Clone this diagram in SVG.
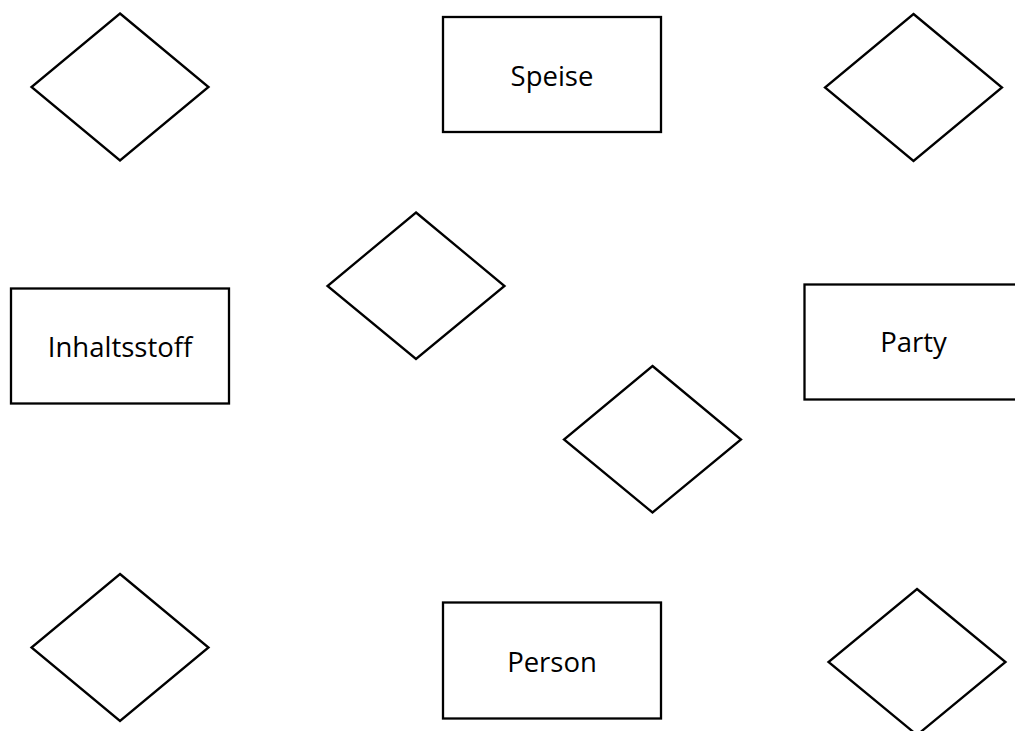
<svg xmlns="http://www.w3.org/2000/svg" width="1015" height="731" viewBox="0 0 1015 731">
<style>
.shape{fill:#ffffff;stroke:#000000;stroke-width:2.3}
.lbl{font-family:"Open Sans","Noto Sans","Liberation Sans",sans-serif;font-size:27.5px;fill:#000000;text-anchor:middle}
</style>
<rect x="0" y="0" width="1015" height="731" fill="#ffffff"/>
<g id="connectors"/>
<g id="rel-top-left"><polygon class="shape" points="120,13.5 208.5,87 120,160.5 31.5,87"/></g>
<g id="entity-speise"><rect class="shape" x="443" y="17" width="218" height="115"/><text class="lbl" x="552" y="86">Speise</text></g>
<g id="rel-top-right"><polygon class="shape" points="913.5,14 1002,87.5 913.5,161 825,87.5"/></g>
<g id="entity-inhaltsstoff"><rect class="shape" x="11" y="288.5" width="218" height="115"/><text class="lbl" x="120" y="356.5">Inhaltsstoff</text></g>
<g id="rel-center-upper"><polygon class="shape" points="416,212.5 504.5,286 416,359 327.5,286"/></g>
<g id="entity-party"><rect class="shape" x="804.5" y="284.5" width="218" height="115"/><text class="lbl" x="913.5" y="351.5">Party</text></g>
<g id="rel-center-lower"><polygon class="shape" points="652.5,366 741,439.5 652.5,512.5 564,439.5"/></g>
<g id="rel-bottom-left"><polygon class="shape" points="120,574 208.5,647.5 120,721 31.5,647.5"/></g>
<g id="entity-person"><rect class="shape" x="443" y="602.5" width="218" height="116"/><text class="lbl" x="552" y="671.5">Person</text></g>
<g id="rel-bottom-right"><polygon class="shape" points="917,589 1005.5,662 917,735 828.5,662"/></g>
</svg>
